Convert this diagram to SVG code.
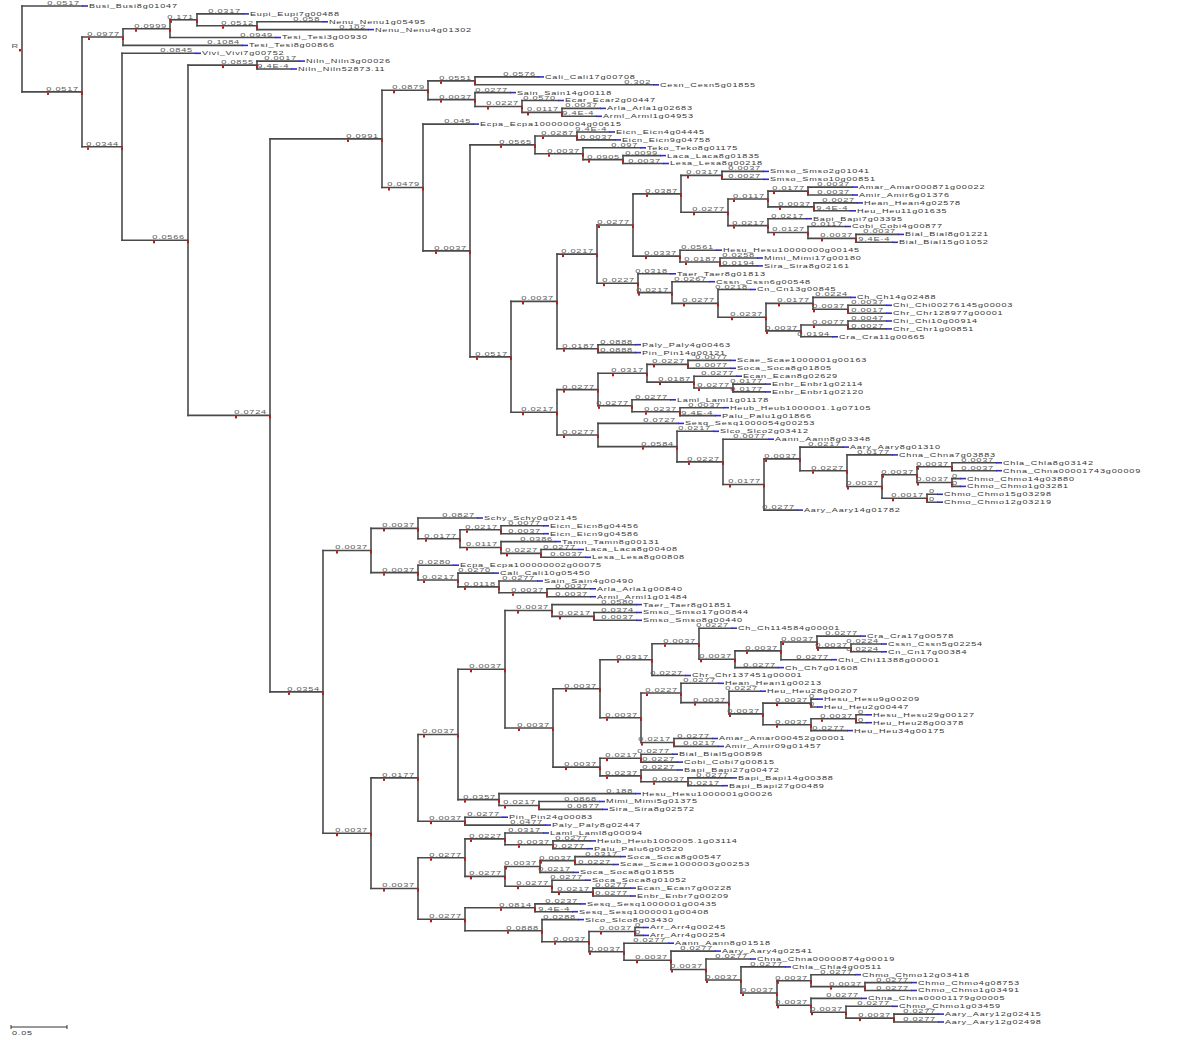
<svg xmlns="http://www.w3.org/2000/svg" width="1200" height="1040" viewBox="0 0 1200 1040">
<defs>
<style>
.e{fill:none;stroke:#4a4a4a;stroke-width:1.6;stroke-linecap:square}
.ie path{marker-mid:url(#rm);marker-end:url(#rm)}
.b{stroke:#2f2fc8;stroke-width:1.6}
.l{font-family:"Liberation Sans",Arial,sans-serif;font-size:5px;fill:#5c5c5c;text-anchor:end;letter-spacing:.4px;transform-box:fill-box;transform-origin:100% 0;transform:scaleX(1.85)}
.n{font-family:"Liberation Sans",Arial,sans-serif;font-size:5.5px;fill:#363636;letter-spacing:.5px;transform-box:fill-box;transform-origin:0 0;transform:scaleX(1.65)}
</style>
<marker id="rm" markerUnits="userSpaceOnUse" markerWidth="3" markerHeight="4" refX="1" refY="-0.6" overflow="visible"><rect width="2" height="2.4" fill="#cc1111"/></marker>
</defs>
<rect width="1200" height="1040" fill="#ffffff"/>
<g id="connectors">
<path class="e" d="M22 6V91.9M82 37V146.8M123 28.7V45.4M170 19.8V37.5M197 13.9V25.7M257 21.8V29.6M122 53.3V240.3M188 65.1V415.4M257 61.1V69M270 138.9V691.9M382 90.3V187.5M428 80.9V99.6M475 76.9V84.8M475 92.6V106.5M522 100.5V112.4M562 108.4V116.3M423 124.1V250.9M470 144.9V356.9M535 136V153.7M577 132V139.9M583 147.8V159.6M623 155.6V163.5M511 301.4V412.3M557 254.1V348.7M597 225V283.2M633 193.9V256.1M681 175.4V212.3M722 171.4V179.3M728 199V225.6M768 191.1V206.9M808 187.1V195M814 202.9V210.8M768 218.7V232.5M808 226.5V238.4M856 234.4V242.3M680 250.2V262M720 258V265.9M638 273.8V292.6M672 281.7V303.4M718 289.5V317.2M766 303.4V330.9M813 297.4V309.3M801 325V336.8M848 305.3V313.2M848 321V328.9M598 344.7V352.6M557 389.6V435M598 373.3V405.8M647 364.4V382.1M688 360.4V368.3M694 376.2V388M733 384.1V391.9M632 399.8V411.7M680 407.7V415.6M598 423.4V446.6M677 431.3V461.9M723 439.2V484.5M764 458.9V510.1M800 447.1V470.7M847 454.9V486.5M882 474.7V498.3M917 466.8V482.5M952 462.8V470.7M952 478.6V486.4M927 494.3V502.2M323 550.5V833.2M371 528.4V572.6M418 518V538.7M460 529.8V547.5M501 525.8V533.7M501 541.6V553.4M541 549.5V557.3M418 565.2V580M458 573.1V586.9M499 581V592.8M547 588.8V596.7M371 777.9V888.5M418 734.5V821.2M458 669.3V799.6M505 610.5V728M552 604.6V616.4M594 612.5V620.3M553 688.8V767.1M600 659.7V717.8M652 643.8V675.5M699 628.2V659.3M735 650.9V667.6M781 642V659.7M817 636.1V647.9M851 644V651.8M641 693V742.5M681 683.3V702.6M729 691.2V713.9M763 703.1V724.7M811 699.1V707M811 718.8V730.6M856 714.8V722.7M674 738.5V746.4M600 758.2V775.9M641 754.2V762.1M641 770V781.8M688 777.9V785.7M499 793.6V805.5M539 801.5V809.4M465 817.2V825.1M418 857.7V919.3M465 838.9V876.4M505 833V844.8M553 840.9V848.7M505 866.5V886.2M540 860.6V872.4M575 856.6V864.5M552 880.2V892.1M593 888.1V896M465 907.8V930.7M535 903.9V911.7M542 919.6V941.7M589 931.5V951.8M635 927.5V935.4M624 943.2V960.3M671 951.1V969.5M706 959V980M741 966.9V993M777 980.7V1005.3M811 974.7V986.6M865 982.6V990.5M811 998.4V1012.2M846 1006.3V1018.1M894 1014.1V1022"/>
<path class="e" d="M22 6H82M197 13.9H243M257 21.8H322M257 29.6H368M170 37.5H275M123 45.4H242M122 53.3H195M257 61.1H299M257 69H291M475 76.9H538M475 84.8H653M475 92.6H510M522 100.5H558M562 108.4H600M562 116.3H596M423 124.1H473M577 132H609M577 139.9H615M583 147.8H640M623 155.6H660M623 163.5H663M722 171.4H763M722 179.3H763M808 187.1H852M808 195H852M814 202.9H857M814 210.8H850M768 218.7H806M808 226.5H845M856 234.4H898M856 242.3H892M680 250.2H716M720 258H757M720 265.9H757M638 273.8H670M672 281.7H709M718 289.5H750M813 297.4H850M848 305.3H886M848 313.2H886M848 321H886M848 328.9H886M801 336.8H832M598 344.7H635M598 352.6H635M688 360.4H730M688 368.3H730M694 376.2H736M733 384.1H765M733 391.9H765M632 399.8H670M680 407.7H723M680 415.6H715M598 423.4H678M677 431.3H713M723 439.2H768M800 447.1H843M847 454.9H892M952 462.8H996M952 470.7H996M952 478.6H960M952 486.4H960M927 494.3H937M927 502.2H937M764 510.1H797M418 518H477M501 525.8H543M501 533.7H543M501 541.6H555M541 549.5H578M541 557.3H585M418 565.2H453M458 573.1H493M499 581H537M547 588.8H590M547 596.7H590M552 604.6H636M594 612.5H636M594 620.3H636M699 628.2H731M817 636.1H860M851 644H881M851 651.8H881M781 659.7H831M735 667.6H778M652 675.5H685M681 683.3H718M729 691.2H760M811 699.1H817M811 707H817M856 714.8H866M856 722.7H866M811 730.6H847M674 738.5H712M674 746.4H718M641 754.2H672M641 762.1H677M641 770H677M688 777.9H731M688 785.7H722M499 793.6H635M539 801.5H599M539 809.4H602M465 817.2H502M465 825.1H545M505 833H543M553 840.9H590M553 848.7H587M575 856.6H620M575 864.5H613M540 872.4H573M552 880.2H585M593 888.1H630M593 896H630M535 903.9H580M535 911.7H572M542 919.6H578M635 927.5H643M635 935.4H643M624 943.2H668M671 951.1H715M706 959H750M741 966.9H785M811 974.7H855M865 982.6H911M865 990.5H911M811 998.4H861M846 1006.3H892M894 1014.1H938M894 1022H938"/>
<g class="ie">
<path class="e" d="M22 91.9H48H82"/><path class="e" d="M82 37H89H123"/><path class="e" d="M123 28.7H136H170"/><path class="e" d="M170 19.8H171H197"/><path class="e" d="M197 25.7H223H257"/><path class="e" d="M82 146.8H88H122"/><path class="e" d="M122 240.3H154H188"/><path class="e" d="M188 65.1H223H257"/><path class="e" d="M188 415.4H236H270"/><path class="e" d="M270 138.9H348H382"/><path class="e" d="M382 90.3H394H428"/><path class="e" d="M428 80.9H441H475"/><path class="e" d="M428 99.6H441H475"/><path class="e" d="M475 106.5H488H522"/><path class="e" d="M522 112.4H528H562"/><path class="e" d="M382 187.5H389H423"/><path class="e" d="M423 250.9H436H470"/><path class="e" d="M470 144.9H501H535"/><path class="e" d="M535 136H543H577"/><path class="e" d="M535 153.7H549H583"/><path class="e" d="M583 159.6H589H623"/><path class="e" d="M470 356.9H477H511"/><path class="e" d="M511 301.4H523H557"/><path class="e" d="M557 254.1H563H597"/><path class="e" d="M597 225H599H633"/><path class="e" d="M633 193.9H647H681"/><path class="e" d="M681 175.4H688H722"/><path class="e" d="M681 212.3H694H728"/><path class="e" d="M728 199H734H768"/><path class="e" d="M768 191.1H774H808"/><path class="e" d="M768 206.9H780H814"/><path class="e" d="M728 225.6H734H768"/><path class="e" d="M768 232.5H774H808"/><path class="e" d="M808 238.4H822H856"/><path class="e" d="M633 256.1H646H680"/><path class="e" d="M680 262H686H720"/><path class="e" d="M597 283.2H604H638"/><path class="e" d="M638 292.6H639H672"/><path class="e" d="M672 303.4H684H718"/><path class="e" d="M718 317.2H732H766"/><path class="e" d="M766 303.4H779H813"/><path class="e" d="M766 330.9H767H801"/><path class="e" d="M813 309.3H814H848"/><path class="e" d="M801 325H814H848"/><path class="e" d="M557 348.7H564H598"/><path class="e" d="M511 412.3H523H557"/><path class="e" d="M557 389.6H564H598"/><path class="e" d="M598 373.3H613H647"/><path class="e" d="M647 364.4H654H688"/><path class="e" d="M647 382.1H660H694"/><path class="e" d="M694 388H699H733"/><path class="e" d="M598 405.8H599H632"/><path class="e" d="M632 411.7H646H680"/><path class="e" d="M557 435H564H598"/><path class="e" d="M598 446.6H643H677"/><path class="e" d="M677 461.9H689H723"/><path class="e" d="M723 484.5H730H764"/><path class="e" d="M764 458.9H766H800"/><path class="e" d="M800 470.7H813H847"/><path class="e" d="M847 486.5H848H882"/><path class="e" d="M882 474.7H883H917"/><path class="e" d="M917 466.8H918H952"/><path class="e" d="M917 482.5H918H952"/><path class="e" d="M882 498.3H893H927"/><path class="e" d="M270 691.9H289H323"/><path class="e" d="M323 550.5H337H371"/><path class="e" d="M371 528.4H384H418"/><path class="e" d="M418 538.7H426H460"/><path class="e" d="M460 529.8H467H501"/><path class="e" d="M460 547.5H467H501"/><path class="e" d="M501 553.4H507H541"/><path class="e" d="M371 572.6H384H418"/><path class="e" d="M418 580H424H458"/><path class="e" d="M458 586.9H465H499"/><path class="e" d="M499 592.8H513H547"/><path class="e" d="M323 833.2H337H371"/><path class="e" d="M371 777.9H384H418"/><path class="e" d="M418 734.5H424H458"/><path class="e" d="M458 669.3H471H505"/><path class="e" d="M505 610.5H518H552"/><path class="e" d="M552 616.4H560H594"/><path class="e" d="M505 728H519H553"/><path class="e" d="M553 688.8H566H600"/><path class="e" d="M600 659.7H618H652"/><path class="e" d="M652 643.8H665H699"/><path class="e" d="M699 659.3H701H735"/><path class="e" d="M735 650.9H747H781"/><path class="e" d="M781 642H783H817"/><path class="e" d="M817 647.9H818H851"/><path class="e" d="M600 717.8H607H641"/><path class="e" d="M641 693H647H681"/><path class="e" d="M681 702.6H695H729"/><path class="e" d="M729 713.9H730H763"/><path class="e" d="M763 703.1H777H811"/><path class="e" d="M763 724.7H777H811"/><path class="e" d="M811 718.8H822H856"/><path class="e" d="M641 742.5H642H674"/><path class="e" d="M553 767.1H566H600"/><path class="e" d="M600 758.2H607H641"/><path class="e" d="M600 775.9H607H641"/><path class="e" d="M641 781.8H654H688"/><path class="e" d="M458 799.6H465H499"/><path class="e" d="M499 805.5H505H539"/><path class="e" d="M418 821.2H431H465"/><path class="e" d="M371 888.5H384H418"/><path class="e" d="M418 857.7H431H465"/><path class="e" d="M465 838.9H471H505"/><path class="e" d="M505 844.8H519H553"/><path class="e" d="M465 876.4H471H505"/><path class="e" d="M505 866.5H506H540"/><path class="e" d="M540 860.6H541H575"/><path class="e" d="M505 886.2H518H552"/><path class="e" d="M552 892.1H559H593"/><path class="e" d="M418 919.3H431H465"/><path class="e" d="M465 907.8H501H535"/><path class="e" d="M465 930.7H508H542"/><path class="e" d="M542 941.7H555H589"/><path class="e" d="M589 931.5H601H635"/><path class="e" d="M589 951.8H590H624"/><path class="e" d="M624 960.3H637H671"/><path class="e" d="M671 969.5H672H706"/><path class="e" d="M706 980H707H741"/><path class="e" d="M741 993H743H777"/><path class="e" d="M777 980.7H778H811"/><path class="e" d="M811 986.6H831H865"/><path class="e" d="M777 1005.3H778H811"/><path class="e" d="M811 1012.2H812H846"/><path class="e" d="M846 1018.1H860H894"/>
</g>
</g>
<g id="internal-nodes">
<g id="root"><text class="l" x="19" y="48">R</text><rect x="19" y="49" width="2" height="2.4" fill="#cc1111"/></g>
<g id="N1"><text class="l" x="79" y="90.9">0.0517</text></g>
<g id="N2"><text class="l" x="120" y="36">0.0977</text></g>
<g id="N2a"><text class="l" x="167" y="27.7">0.0999</text></g>
<g id="N2b"><text class="l" x="194" y="18.8">0.171</text></g>
<g id="N2c"><text class="l" x="254" y="24.7">0.0512</text></g>
<g id="N3"><text class="l" x="119" y="145.8">0.0344</text></g>
<g id="N4"><text class="l" x="185" y="239.3">0.0566</text></g>
<g id="N5"><text class="l" x="254" y="64.1">0.0855</text></g>
<g id="N6"><text class="l" x="267" y="414.4">0.0724</text></g>
<g id="N7"><text class="l" x="379" y="137.9">0.0991</text></g>
<g id="N8"><text class="l" x="425" y="89.3">0.0879</text></g>
<g id="N9"><text class="l" x="472" y="79.9">0.0551</text></g>
<g id="N10"><text class="l" x="472" y="98.6">0.0037</text></g>
<g id="N11"><text class="l" x="519" y="105.5">0.0227</text></g>
<g id="N12"><text class="l" x="559" y="111.4">0.0117</text></g>
<g id="N13"><text class="l" x="420" y="186.5">0.0479</text></g>
<g id="N14"><text class="l" x="467" y="249.9">0.0037</text></g>
<g id="N15"><text class="l" x="532" y="143.9">0.0565</text></g>
<g id="N16"><text class="l" x="574" y="135">0.0287</text></g>
<g id="N17"><text class="l" x="580" y="152.7">0.0037</text></g>
<g id="N18"><text class="l" x="620" y="158.6">0.0905</text></g>
<g id="N19"><text class="l" x="508" y="355.9">0.0517</text></g>
<g id="nB"><text class="l" x="554" y="300.4">0.0037</text></g>
<g id="nC"><text class="l" x="594" y="253.1">0.0217</text></g>
<g id="nD"><text class="l" x="630" y="224">0.0277</text></g>
<g id="nE"><text class="l" x="678" y="192.9">0.0387</text></g>
<g id="nF"><text class="l" x="719" y="174.4">0.0317</text></g>
<g id="nG"><text class="l" x="725" y="211.3">0.0277</text></g>
<g id="nH"><text class="l" x="765" y="198">0.0117</text></g>
<g id="nI"><text class="l" x="805" y="190.1">0.0177</text></g>
<g id="nK"><text class="l" x="811" y="205.9">0.0037</text></g>
<g id="nJ"><text class="l" x="765" y="224.6">0.0217</text></g>
<g id="nM"><text class="l" x="805" y="231.5">0.0127</text></g>
<g id="nN"><text class="l" x="853" y="237.4">0.0037</text></g>
<g id="nHMS"><text class="l" x="677" y="255.1">0.0337</text></g>
<g id="nMS"><text class="l" x="717" y="261">0.0187</text></g>
<g id="nT"><text class="l" x="635" y="282.2">0.0227</text></g>
<g id="nT2"><text class="l" x="669" y="291.6">0.0217</text></g>
<g id="nT3"><text class="l" x="715" y="302.4">0.0277</text></g>
<g id="nT4"><text class="l" x="763" y="316.2">0.0237</text></g>
<g id="nT5"><text class="l" x="810" y="302.4">0.0177</text></g>
<g id="nT6"><text class="l" x="798" y="329.9">0.0037</text></g>
<g id="nT7"><text class="l" x="845" y="308.3">0.0037</text></g>
<g id="nT8"><text class="l" x="845" y="324">0.0077</text></g>
<g id="nPP"><text class="l" x="595" y="347.7">0.0187</text></g>
<g id="nQ"><text class="l" x="554" y="411.3">0.0217</text></g>
<g id="nQ1"><text class="l" x="595" y="388.6">0.0277</text></g>
<g id="nQ3"><text class="l" x="644" y="372.3">0.0317</text></g>
<g id="nQa"><text class="l" x="685" y="363.4">0.0227</text></g>
<g id="nQb"><text class="l" x="691" y="381.1">0.0187</text></g>
<g id="nQc"><text class="l" x="730" y="387">0.0277</text></g>
<g id="nQ4"><text class="l" x="629" y="404.8">0.0277</text></g>
<g id="nQd"><text class="l" x="677" y="410.7">0.0237</text></g>
<g id="nQ2"><text class="l" x="595" y="434">0.0277</text></g>
<g id="nR1"><text class="l" x="674" y="445.6">0.0584</text></g>
<g id="nR2"><text class="l" x="720" y="460.9">0.0227</text></g>
<g id="nR3"><text class="l" x="761" y="483.5">0.0177</text></g>
<g id="nR4"><text class="l" x="797" y="457.9">0.0037</text></g>
<g id="nR5"><text class="l" x="844" y="469.7">0.0227</text></g>
<g id="nR6"><text class="l" x="879" y="485.5">0.0037</text></g>
<g id="nR7"><text class="l" x="914" y="473.7">0.0037</text></g>
<g id="nR7a"><text class="l" x="949" y="465.8">0.0037</text></g>
<g id="nR7b"><text class="l" x="949" y="481.5">0.0037</text></g>
<g id="nR8"><text class="l" x="924" y="497.3">0.0017</text></g>
<g id="nNB"><text class="l" x="320" y="690.9">0.0354</text></g>
<g id="nP1"><text class="l" x="368" y="549.5">0.0037</text></g>
<g id="nP1a"><text class="l" x="415" y="527.4">0.0037</text></g>
<g id="nP1c"><text class="l" x="457" y="537.7">0.0177</text></g>
<g id="nP1f"><text class="l" x="498" y="528.8">0.0217</text></g>
<g id="nP1d"><text class="l" x="498" y="546.5">0.0117</text></g>
<g id="nP1e"><text class="l" x="538" y="552.4">0.0227</text></g>
<g id="nP1b"><text class="l" x="415" y="571.6">0.0037</text></g>
<g id="nP1g"><text class="l" x="455" y="579">0.0217</text></g>
<g id="nP1h"><text class="l" x="496" y="585.9">0.0118</text></g>
<g id="nP1i"><text class="l" x="544" y="591.8">0.0037</text></g>
<g id="nP2"><text class="l" x="368" y="832.2">0.0037</text></g>
<g id="nP2a"><text class="l" x="415" y="776.9">0.0177</text></g>
<g id="nP3"><text class="l" x="455" y="733.5">0.0037</text></g>
<g id="nS1"><text class="l" x="502" y="668.3">0.0037</text></g>
<g id="nX1"><text class="l" x="549" y="609.5">0.0037</text></g>
<g id="nX2"><text class="l" x="591" y="615.4">0.0217</text></g>
<g id="nS2"><text class="l" x="550" y="727">0.0037</text></g>
<g id="nW"><text class="l" x="597" y="687.8">0.0037</text></g>
<g id="nZ"><text class="l" x="649" y="658.7">0.0317</text></g>
<g id="nY1"><text class="l" x="696" y="642.8">0.0037</text></g>
<g id="nY2"><text class="l" x="732" y="658.3">0.0037</text></g>
<g id="nY3"><text class="l" x="778" y="649.9">0.0037</text></g>
<g id="nY4"><text class="l" x="814" y="641">0.0037</text></g>
<g id="nY5"><text class="l" x="848" y="646.9">0.0037</text></g>
<g id="nV"><text class="l" x="638" y="716.8">0.0037</text></g>
<g id="nV1"><text class="l" x="678" y="692">0.0227</text></g>
<g id="nV3"><text class="l" x="726" y="701.6">0.0037</text></g>
<g id="nV4"><text class="l" x="760" y="712.9">0.0037</text></g>
<g id="nV5"><text class="l" x="808" y="702.1">0.0037</text></g>
<g id="nV6"><text class="l" x="808" y="723.7">0.0037</text></g>
<g id="nV7"><text class="l" x="853" y="717.8">0.0037</text></g>
<g id="nV2"><text class="l" x="671" y="741.5">0.0217</text></g>
<g id="nU"><text class="l" x="597" y="766.1">0.0037</text></g>
<g id="nU1"><text class="l" x="638" y="757.2">0.0217</text></g>
<g id="nU2"><text class="l" x="638" y="774.9">0.0237</text></g>
<g id="nU2b"><text class="l" x="685" y="780.8">0.0037</text></g>
<g id="nS3"><text class="l" x="496" y="798.6">0.0357</text></g>
<g id="nS4"><text class="l" x="536" y="804.5">0.0217</text></g>
<g id="nP4"><text class="l" x="462" y="820.2">0.0037</text></g>
<g id="nP2b"><text class="l" x="415" y="887.5">0.0037</text></g>
<g id="nP5"><text class="l" x="462" y="856.7">0.0277</text></g>
<g id="nP6"><text class="l" x="502" y="837.9">0.0227</text></g>
<g id="nP7"><text class="l" x="550" y="843.8">0.0037</text></g>
<g id="nP8"><text class="l" x="502" y="875.4">0.0277</text></g>
<g id="nP9"><text class="l" x="537" y="865.5">0.0037</text></g>
<g id="nP10"><text class="l" x="572" y="859.6">0.0037</text></g>
<g id="nP11"><text class="l" x="549" y="885.2">0.0277</text></g>
<g id="nP12"><text class="l" x="590" y="891.1">0.0217</text></g>
<g id="nP13"><text class="l" x="462" y="918.3">0.0277</text></g>
<g id="nP14"><text class="l" x="532" y="906.8">0.0814</text></g>
<g id="nP15"><text class="l" x="539" y="929.7">0.0888</text></g>
<g id="nP16"><text class="l" x="586" y="940.7">0.0037</text></g>
<g id="nPa"><text class="l" x="632" y="930.5">0.0037</text></g>
<g id="nP17"><text class="l" x="621" y="950.8">0.0037</text></g>
<g id="nP18"><text class="l" x="668" y="959.3">0.0037</text></g>
<g id="nP19"><text class="l" x="703" y="968.5">0.0037</text></g>
<g id="nP20"><text class="l" x="738" y="979">0.0037</text></g>
<g id="nP21"><text class="l" x="774" y="992">0.0037</text></g>
<g id="nP22"><text class="l" x="808" y="979.7">0.0037</text></g>
<g id="nP23"><text class="l" x="862" y="985.6">0.0037</text></g>
<g id="nP24"><text class="l" x="808" y="1004.3">0.0037</text></g>
<g id="nP25"><text class="l" x="843" y="1011.2">0.0037</text></g>
<g id="nP26"><text class="l" x="891" y="1017.1">0.0037</text></g>
</g>
<g id="leaves">
<g id="L1" transform="translate(82 6)"><path class="b" d="M0 0h6"/><text class="l" x="-2" y="-1">0.0517</text><text class="n" x="7" y="1.9">Busi_Busi8g01047</text></g>
<g id="L2" transform="translate(243 13.9)"><path class="b" d="M0 0h6"/><text class="l" x="-2" y="-1">0.0317</text><text class="n" x="7" y="1.9">Eupi_Eupi7g00488</text></g>
<g id="L3" transform="translate(322 21.8)"><path class="b" d="M0 0h6"/><text class="l" x="-2" y="-1">0.058</text><text class="n" x="7" y="1.9">Nenu_Nenu1g05495</text></g>
<g id="L4" transform="translate(368 29.6)"><path class="b" d="M0 0h6"/><text class="l" x="-2" y="-1">0.102</text><text class="n" x="7" y="1.9">Nenu_Nenu4g01302</text></g>
<g id="L5" transform="translate(275 37.5)"><path class="b" d="M0 0h6"/><text class="l" x="-2" y="-1">0.0949</text><text class="n" x="7" y="1.9">Tesi_Tesi3g00930</text></g>
<g id="L6" transform="translate(242 45.4)"><path class="b" d="M0 0h6"/><text class="l" x="-2" y="-1">0.1084</text><text class="n" x="7" y="1.9">Tesi_Tesi8g00866</text></g>
<g id="L7" transform="translate(195 53.3)"><path class="b" d="M0 0h6"/><text class="l" x="-2" y="-1">0.0845</text><text class="n" x="7" y="1.9">Vivi_Vivi7g00752</text></g>
<g id="L8" transform="translate(299 61.1)"><path class="b" d="M0 0h6"/><text class="l" x="-2" y="-1">0.0017</text><text class="n" x="7" y="1.9">Niln_Niln3g00026</text></g>
<g id="L9" transform="translate(291 69)"><path class="b" d="M0 0h6"/><text class="l" x="-2" y="-1">9.4E-4</text><text class="n" x="7" y="1.9">Niln_Niln52873.11</text></g>
<g id="L10" transform="translate(538 76.9)"><path class="b" d="M0 0h6"/><text class="l" x="-2" y="-1">0.0576</text><text class="n" x="7" y="1.9">Cali_Cali17g00708</text></g>
<g id="L11" transform="translate(653 84.8)"><path class="b" d="M0 0h6"/><text class="l" x="-2" y="-1">0.302</text><text class="n" x="7" y="1.9">Cesn_Cesn5g01855</text></g>
<g id="L12" transform="translate(510 92.6)"><path class="b" d="M0 0h6"/><text class="l" x="-2" y="-1">0.0277</text><text class="n" x="7" y="1.9">Sain_Sain14g00118</text></g>
<g id="L13" transform="translate(558 100.5)"><path class="b" d="M0 0h6"/><text class="l" x="-2" y="-1">0.0570</text><text class="n" x="7" y="1.9">Ecar_Ecar2g00447</text></g>
<g id="L14" transform="translate(600 108.4)"><path class="b" d="M0 0h6"/><text class="l" x="-2" y="-1">0.0037</text><text class="n" x="7" y="1.9">Arla_Arla1g02683</text></g>
<g id="L15" transform="translate(596 116.3)"><path class="b" d="M0 0h6"/><text class="l" x="-2" y="-1">9.4E-4</text><text class="n" x="7" y="1.9">Arml_Arml1g04953</text></g>
<g id="L16" transform="translate(473 124.1)"><path class="b" d="M0 0h6"/><text class="l" x="-2" y="-1">0.045</text><text class="n" x="7" y="1.9">Ecpa_Ecpa100000004g00615</text></g>
<g id="L17" transform="translate(609 132)"><path class="b" d="M0 0h6"/><text class="l" x="-2" y="-1">9.4E-4</text><text class="n" x="7" y="1.9">Eicn_Eicn4g04445</text></g>
<g id="L18" transform="translate(615 139.9)"><path class="b" d="M0 0h6"/><text class="l" x="-2" y="-1">0.0037</text><text class="n" x="7" y="1.9">Eicn_Eicn9g04758</text></g>
<g id="L19" transform="translate(640 147.8)"><path class="b" d="M0 0h6"/><text class="l" x="-2" y="-1">0.097</text><text class="n" x="7" y="1.9">Teko_Teko8g01175</text></g>
<g id="L20" transform="translate(660 155.6)"><path class="b" d="M0 0h6"/><text class="l" x="-2" y="-1">0.0099</text><text class="n" x="7" y="1.9">Laca_Laca8g01835</text></g>
<g id="L21" transform="translate(663 163.5)"><path class="b" d="M0 0h6"/><text class="l" x="-2" y="-1">0.0037</text><text class="n" x="7" y="1.9">Lesa_Lesa8g00218</text></g>
<g id="L22" transform="translate(763 171.4)"><path class="b" d="M0 0h6"/><text class="l" x="-2" y="-1">0.0037</text><text class="n" x="7" y="1.9">Smso_Smso2g01041</text></g>
<g id="L23" transform="translate(763 179.3)"><path class="b" d="M0 0h6"/><text class="l" x="-2" y="-1">0.0027</text><text class="n" x="7" y="1.9">Smso_Smso10g00851</text></g>
<g id="L24" transform="translate(852 187.1)"><path class="b" d="M0 0h6"/><text class="l" x="-2" y="-1">0.0037</text><text class="n" x="7" y="1.9">Amar_Amar000871g00022</text></g>
<g id="L25" transform="translate(852 195)"><path class="b" d="M0 0h6"/><text class="l" x="-2" y="-1">0.0037</text><text class="n" x="7" y="1.9">Amir_Amir6g01376</text></g>
<g id="L26" transform="translate(857 202.9)"><path class="b" d="M0 0h6"/><text class="l" x="-2" y="-1">0.0027</text><text class="n" x="7" y="1.9">Hean_Hean4g02578</text></g>
<g id="L27" transform="translate(850 210.8)"><path class="b" d="M0 0h6"/><text class="l" x="-2" y="-1">9.4E-4</text><text class="n" x="7" y="1.9">Heu_Heu11g01635</text></g>
<g id="L28" transform="translate(806 218.7)"><path class="b" d="M0 0h6"/><text class="l" x="-2" y="-1">0.0217</text><text class="n" x="7" y="1.9">Bapi_Bapi7g03395</text></g>
<g id="L29" transform="translate(845 226.5)"><path class="b" d="M0 0h6"/><text class="l" x="-2" y="-1">0.0117</text><text class="n" x="7" y="1.9">Cobi_Cobi4g00877</text></g>
<g id="L30" transform="translate(898 234.4)"><path class="b" d="M0 0h6"/><text class="l" x="-2" y="-1">0.0037</text><text class="n" x="7" y="1.9">Bial_Bial8g01221</text></g>
<g id="L31" transform="translate(892 242.3)"><path class="b" d="M0 0h6"/><text class="l" x="-2" y="-1">9.4E-4</text><text class="n" x="7" y="1.9">Bial_Bial15g01052</text></g>
<g id="L32" transform="translate(716 250.2)"><path class="b" d="M0 0h6"/><text class="l" x="-2" y="-1">0.0561</text><text class="n" x="7" y="1.9">Hesu_Hesu10000000g00145</text></g>
<g id="L33" transform="translate(757 258)"><path class="b" d="M0 0h6"/><text class="l" x="-2" y="-1">0.0258</text><text class="n" x="7" y="1.9">Mimi_Mimi17g00180</text></g>
<g id="L34" transform="translate(757 265.9)"><path class="b" d="M0 0h6"/><text class="l" x="-2" y="-1">0.0194</text><text class="n" x="7" y="1.9">Sira_Sira8g02161</text></g>
<g id="L35" transform="translate(670 273.8)"><path class="b" d="M0 0h6"/><text class="l" x="-2" y="-1">0.0318</text><text class="n" x="7" y="1.9">Taer_Taer8g01813</text></g>
<g id="L36" transform="translate(709 281.7)"><path class="b" d="M0 0h6"/><text class="l" x="-2" y="-1">0.0267</text><text class="n" x="7" y="1.9">Cssn_Cssn6g00548</text></g>
<g id="L37" transform="translate(750 289.5)"><path class="b" d="M0 0h6"/><text class="l" x="-2" y="-1">0.0218</text><text class="n" x="7" y="1.9">Cn_Cn13g00845</text></g>
<g id="L38" transform="translate(850 297.4)"><path class="b" d="M0 0h6"/><text class="l" x="-2" y="-1">0.0224</text><text class="n" x="7" y="1.9">Ch_Ch14g02488</text></g>
<g id="L39" transform="translate(886 305.3)"><path class="b" d="M0 0h6"/><text class="l" x="-2" y="-1">0.0037</text><text class="n" x="7" y="1.9">Chi_Chi00276145g00003</text></g>
<g id="L40" transform="translate(886 313.2)"><path class="b" d="M0 0h6"/><text class="l" x="-2" y="-1">0.0017</text><text class="n" x="7" y="1.9">Chr_Chr128977g00001</text></g>
<g id="L41" transform="translate(886 321)"><path class="b" d="M0 0h6"/><text class="l" x="-2" y="-1">0.0047</text><text class="n" x="7" y="1.9">Chi_Chi10g00914</text></g>
<g id="L42" transform="translate(886 328.9)"><path class="b" d="M0 0h6"/><text class="l" x="-2" y="-1">0.0027</text><text class="n" x="7" y="1.9">Chr_Chr1g00851</text></g>
<g id="L43" transform="translate(832 336.8)"><path class="b" d="M0 0h6"/><text class="l" x="-2" y="-1">0.0194</text><text class="n" x="7" y="1.9">Cra_Cra11g00665</text></g>
<g id="L44" transform="translate(635 344.7)"><path class="b" d="M0 0h6"/><text class="l" x="-2" y="-1">0.0888</text><text class="n" x="7" y="1.9">Paly_Paly4g00463</text></g>
<g id="L45" transform="translate(635 352.6)"><path class="b" d="M0 0h6"/><text class="l" x="-2" y="-1">0.0888</text><text class="n" x="7" y="1.9">Pin_Pin14g00121</text></g>
<g id="L46" transform="translate(730 360.4)"><path class="b" d="M0 0h6"/><text class="l" x="-2" y="-1">0.0077</text><text class="n" x="7" y="1.9">Scae_Scae1000001g00163</text></g>
<g id="L47" transform="translate(730 368.3)"><path class="b" d="M0 0h6"/><text class="l" x="-2" y="-1">0.0077</text><text class="n" x="7" y="1.9">Soca_Soca8g01805</text></g>
<g id="L48" transform="translate(736 376.2)"><path class="b" d="M0 0h6"/><text class="l" x="-2" y="-1">0.0277</text><text class="n" x="7" y="1.9">Ecan_Ecan8g02629</text></g>
<g id="L49" transform="translate(765 384.1)"><path class="b" d="M0 0h6"/><text class="l" x="-2" y="-1">0.0177</text><text class="n" x="7" y="1.9">Enbr_Enbr1g02114</text></g>
<g id="L50" transform="translate(765 391.9)"><path class="b" d="M0 0h6"/><text class="l" x="-2" y="-1">0.0177</text><text class="n" x="7" y="1.9">Enbr_Enbr1g02120</text></g>
<g id="L51" transform="translate(670 399.8)"><path class="b" d="M0 0h6"/><text class="l" x="-2" y="-1">0.0277</text><text class="n" x="7" y="1.9">Laml_Laml1g01178</text></g>
<g id="L52" transform="translate(723 407.7)"><path class="b" d="M0 0h6"/><text class="l" x="-2" y="-1">0.0037</text><text class="n" x="7" y="1.9">Heub_Heub1000001.1g07105</text></g>
<g id="L53" transform="translate(715 415.6)"><path class="b" d="M0 0h6"/><text class="l" x="-2" y="-1">9.4E-4</text><text class="n" x="7" y="1.9">Palu_Palu1g01866</text></g>
<g id="L54" transform="translate(678 423.4)"><path class="b" d="M0 0h6"/><text class="l" x="-2" y="-1">0.0727</text><text class="n" x="7" y="1.9">Sesq_Sesq1000054g00253</text></g>
<g id="L55" transform="translate(713 431.3)"><path class="b" d="M0 0h6"/><text class="l" x="-2" y="-1">0.0217</text><text class="n" x="7" y="1.9">Slco_Slco2g03412</text></g>
<g id="L56" transform="translate(768 439.2)"><path class="b" d="M0 0h6"/><text class="l" x="-2" y="-1">0.0077</text><text class="n" x="7" y="1.9">Aann_Aann8g03348</text></g>
<g id="L57" transform="translate(843 447.1)"><path class="b" d="M0 0h6"/><text class="l" x="-2" y="-1">0.0217</text><text class="n" x="7" y="1.9">Aary_Aary8g01310</text></g>
<g id="L58" transform="translate(892 454.9)"><path class="b" d="M0 0h6"/><text class="l" x="-2" y="-1">0.0177</text><text class="n" x="7" y="1.9">Chna_Chna7g03883</text></g>
<g id="L59" transform="translate(996 462.8)"><path class="b" d="M0 0h6"/><text class="l" x="-2" y="-1">0.0037</text><text class="n" x="7" y="1.9">Chla_Chla8g03142</text></g>
<g id="L60" transform="translate(996 470.7)"><path class="b" d="M0 0h6"/><text class="l" x="-2" y="-1">0.0037</text><text class="n" x="7" y="1.9">Chna_Chna00001743g00009</text></g>
<g id="L61" transform="translate(960 478.6)"><path class="b" d="M0 0h6"/><text class="l" x="-2" y="-1">0</text><text class="n" x="7" y="1.9">Chmo_Chmo14g03880</text></g>
<g id="L62" transform="translate(960 486.4)"><path class="b" d="M0 0h6"/><text class="l" x="-2" y="-1">0</text><text class="n" x="7" y="1.9">Chmo_Chmo1g03281</text></g>
<g id="L63" transform="translate(937 494.3)"><path class="b" d="M0 0h6"/><text class="l" x="-2" y="-1">0</text><text class="n" x="7" y="1.9">Chmo_Chmo15g03298</text></g>
<g id="L64" transform="translate(937 502.2)"><path class="b" d="M0 0h6"/><text class="l" x="-2" y="-1">0</text><text class="n" x="7" y="1.9">Chmo_Chmo12g03219</text></g>
<g id="L65" transform="translate(797 510.1)"><path class="b" d="M0 0h6"/><text class="l" x="-2" y="-1">0.0277</text><text class="n" x="7" y="1.9">Aary_Aary14g01782</text></g>
<g id="L66" transform="translate(477 518)"><path class="b" d="M0 0h6"/><text class="l" x="-2" y="-1">0.0827</text><text class="n" x="7" y="1.9">Schy_Schy0g02145</text></g>
<g id="L67" transform="translate(543 525.8)"><path class="b" d="M0 0h6"/><text class="l" x="-2" y="-1">0.0077</text><text class="n" x="7" y="1.9">Eicn_Eicn8g04456</text></g>
<g id="L68" transform="translate(543 533.7)"><path class="b" d="M0 0h6"/><text class="l" x="-2" y="-1">0.0037</text><text class="n" x="7" y="1.9">Eicn_Eicn9g04586</text></g>
<g id="L69" transform="translate(555 541.6)"><path class="b" d="M0 0h6"/><text class="l" x="-2" y="-1">0.0386</text><text class="n" x="7" y="1.9">Tamn_Tamn8g00131</text></g>
<g id="L70" transform="translate(578 549.5)"><path class="b" d="M0 0h6"/><text class="l" x="-2" y="-1">0.0277</text><text class="n" x="7" y="1.9">Laca_Laca8g00408</text></g>
<g id="L71" transform="translate(585 557.3)"><path class="b" d="M0 0h6"/><text class="l" x="-2" y="-1">0.0037</text><text class="n" x="7" y="1.9">Lesa_Lesa8g00808</text></g>
<g id="L72" transform="translate(453 565.2)"><path class="b" d="M0 0h6"/><text class="l" x="-2" y="-1">0.0280</text><text class="n" x="7" y="1.9">Ecpa_Ecpa100000002g00075</text></g>
<g id="L73" transform="translate(493 573.1)"><path class="b" d="M0 0h6"/><text class="l" x="-2" y="-1">0.0270</text><text class="n" x="7" y="1.9">Cali_Cali10g05450</text></g>
<g id="L74" transform="translate(537 581)"><path class="b" d="M0 0h6"/><text class="l" x="-2" y="-1">0.0277</text><text class="n" x="7" y="1.9">Sain_Sain4g00490</text></g>
<g id="L75" transform="translate(590 588.8)"><path class="b" d="M0 0h6"/><text class="l" x="-2" y="-1">0.0037</text><text class="n" x="7" y="1.9">Arla_Arla1g00840</text></g>
<g id="L76" transform="translate(590 596.7)"><path class="b" d="M0 0h6"/><text class="l" x="-2" y="-1">0.0037</text><text class="n" x="7" y="1.9">Arml_Arml1g01484</text></g>
<g id="L77" transform="translate(636 604.6)"><path class="b" d="M0 0h6"/><text class="l" x="-2" y="-1">0.0580</text><text class="n" x="7" y="1.9">Taer_Taer8g01851</text></g>
<g id="L78" transform="translate(636 612.5)"><path class="b" d="M0 0h6"/><text class="l" x="-2" y="-1">0.0374</text><text class="n" x="7" y="1.9">Smso_Smso17g00844</text></g>
<g id="L79" transform="translate(636 620.3)"><path class="b" d="M0 0h6"/><text class="l" x="-2" y="-1">0.0037</text><text class="n" x="7" y="1.9">Smso_Smso8g00440</text></g>
<g id="L80" transform="translate(731 628.2)"><path class="b" d="M0 0h6"/><text class="l" x="-2" y="-1">0.0227</text><text class="n" x="7" y="1.9">Ch_Ch114584g00001</text></g>
<g id="L81" transform="translate(860 636.1)"><path class="b" d="M0 0h6"/><text class="l" x="-2" y="-1">0.0277</text><text class="n" x="7" y="1.9">Cra_Cra17g00578</text></g>
<g id="L82" transform="translate(881 644)"><path class="b" d="M0 0h6"/><text class="l" x="-2" y="-1">0.0224</text><text class="n" x="7" y="1.9">Cssn_Cssn5g02254</text></g>
<g id="L83" transform="translate(881 651.8)"><path class="b" d="M0 0h6"/><text class="l" x="-2" y="-1">0.0224</text><text class="n" x="7" y="1.9">Cn_Cn17g00384</text></g>
<g id="L84" transform="translate(831 659.7)"><path class="b" d="M0 0h6"/><text class="l" x="-2" y="-1">0.0277</text><text class="n" x="7" y="1.9">Chi_Chi11388g00001</text></g>
<g id="L85" transform="translate(778 667.6)"><path class="b" d="M0 0h6"/><text class="l" x="-2" y="-1">0.0277</text><text class="n" x="7" y="1.9">Ch_Ch7g01608</text></g>
<g id="L86" transform="translate(685 675.5)"><path class="b" d="M0 0h6"/><text class="l" x="-2" y="-1">0.0227</text><text class="n" x="7" y="1.9">Chr_Chr137451g00001</text></g>
<g id="L87" transform="translate(718 683.3)"><path class="b" d="M0 0h6"/><text class="l" x="-2" y="-1">0.0277</text><text class="n" x="7" y="1.9">Hean_Hean1g00213</text></g>
<g id="L88" transform="translate(760 691.2)"><path class="b" d="M0 0h6"/><text class="l" x="-2" y="-1">0.0227</text><text class="n" x="7" y="1.9">Heu_Heu28g00207</text></g>
<g id="L89" transform="translate(817 699.1)"><path class="b" d="M0 0h6"/><text class="l" x="-2" y="-1">0</text><text class="n" x="7" y="1.9">Hesu_Hesu9g00209</text></g>
<g id="L90" transform="translate(817 707)"><path class="b" d="M0 0h6"/><text class="l" x="-2" y="-1">0</text><text class="n" x="7" y="1.9">Heu_Heu2g00447</text></g>
<g id="L91" transform="translate(866 714.8)"><path class="b" d="M0 0h6"/><text class="l" x="-2" y="-1">0</text><text class="n" x="7" y="1.9">Hesu_Hesu29g00127</text></g>
<g id="L92" transform="translate(866 722.7)"><path class="b" d="M0 0h6"/><text class="l" x="-2" y="-1">0</text><text class="n" x="7" y="1.9">Heu_Heu28g00378</text></g>
<g id="L93" transform="translate(847 730.6)"><path class="b" d="M0 0h6"/><text class="l" x="-2" y="-1">0.0277</text><text class="n" x="7" y="1.9">Heu_Heu34g00175</text></g>
<g id="L94" transform="translate(712 738.5)"><path class="b" d="M0 0h6"/><text class="l" x="-2" y="-1">0.0277</text><text class="n" x="7" y="1.9">Amar_Amar000452g00001</text></g>
<g id="L95" transform="translate(718 746.4)"><path class="b" d="M0 0h6"/><text class="l" x="-2" y="-1">0.0217</text><text class="n" x="7" y="1.9">Amir_Amir09g01457</text></g>
<g id="L96" transform="translate(672 754.2)"><path class="b" d="M0 0h6"/><text class="l" x="-2" y="-1">0.0277</text><text class="n" x="7" y="1.9">Bial_Bial5g00898</text></g>
<g id="L97" transform="translate(677 762.1)"><path class="b" d="M0 0h6"/><text class="l" x="-2" y="-1">0.0227</text><text class="n" x="7" y="1.9">Cobi_Cobi7g00815</text></g>
<g id="L98" transform="translate(677 770)"><path class="b" d="M0 0h6"/><text class="l" x="-2" y="-1">0.0227</text><text class="n" x="7" y="1.9">Bapi_Bapi27g00472</text></g>
<g id="L99" transform="translate(731 777.9)"><path class="b" d="M0 0h6"/><text class="l" x="-2" y="-1">0.0277</text><text class="n" x="7" y="1.9">Bapi_Bapi14g00388</text></g>
<g id="L100" transform="translate(722 785.7)"><path class="b" d="M0 0h6"/><text class="l" x="-2" y="-1">0.0217</text><text class="n" x="7" y="1.9">Bapi_Bapi27g00489</text></g>
<g id="L101" transform="translate(635 793.6)"><path class="b" d="M0 0h6"/><text class="l" x="-2" y="-1">0.188</text><text class="n" x="7" y="1.9">Hesu_Hesu1000001g00026</text></g>
<g id="L102" transform="translate(599 801.5)"><path class="b" d="M0 0h6"/><text class="l" x="-2" y="-1">0.0868</text><text class="n" x="7" y="1.9">Mimi_Mimi5g01375</text></g>
<g id="L103" transform="translate(602 809.4)"><path class="b" d="M0 0h6"/><text class="l" x="-2" y="-1">0.0877</text><text class="n" x="7" y="1.9">Sira_Sira8g02572</text></g>
<g id="L104" transform="translate(502 817.2)"><path class="b" d="M0 0h6"/><text class="l" x="-2" y="-1">0.0277</text><text class="n" x="7" y="1.9">Pin_Pin24g00083</text></g>
<g id="L105" transform="translate(545 825.1)"><path class="b" d="M0 0h6"/><text class="l" x="-2" y="-1">0.0477</text><text class="n" x="7" y="1.9">Paly_Paly8g02447</text></g>
<g id="L106" transform="translate(543 833)"><path class="b" d="M0 0h6"/><text class="l" x="-2" y="-1">0.0317</text><text class="n" x="7" y="1.9">Laml_Laml8g00094</text></g>
<g id="L107" transform="translate(590 840.9)"><path class="b" d="M0 0h6"/><text class="l" x="-2" y="-1">0.0277</text><text class="n" x="7" y="1.9">Heub_Heub1000005.1g03114</text></g>
<g id="L108" transform="translate(587 848.7)"><path class="b" d="M0 0h6"/><text class="l" x="-2" y="-1">0.0277</text><text class="n" x="7" y="1.9">Palu_Palu6g00520</text></g>
<g id="L109" transform="translate(620 856.6)"><path class="b" d="M0 0h6"/><text class="l" x="-2" y="-1">0.0317</text><text class="n" x="7" y="1.9">Soca_Soca8g00547</text></g>
<g id="L110" transform="translate(613 864.5)"><path class="b" d="M0 0h6"/><text class="l" x="-2" y="-1">0.0227</text><text class="n" x="7" y="1.9">Scae_Scae1000003g00253</text></g>
<g id="L111" transform="translate(573 872.4)"><path class="b" d="M0 0h6"/><text class="l" x="-2" y="-1">0.0217</text><text class="n" x="7" y="1.9">Soca_Soca8g01855</text></g>
<g id="L112" transform="translate(585 880.2)"><path class="b" d="M0 0h6"/><text class="l" x="-2" y="-1">0.0277</text><text class="n" x="7" y="1.9">Soca_Soca8g01052</text></g>
<g id="L113" transform="translate(630 888.1)"><path class="b" d="M0 0h6"/><text class="l" x="-2" y="-1">0.0277</text><text class="n" x="7" y="1.9">Ecan_Ecan7g00228</text></g>
<g id="L114" transform="translate(630 896)"><path class="b" d="M0 0h6"/><text class="l" x="-2" y="-1">0.0277</text><text class="n" x="7" y="1.9">Enbr_Enbr7g00209</text></g>
<g id="L115" transform="translate(580 903.9)"><path class="b" d="M0 0h6"/><text class="l" x="-2" y="-1">0.0237</text><text class="n" x="7" y="1.9">Sesq_Sesq1000001g00435</text></g>
<g id="L116" transform="translate(572 911.7)"><path class="b" d="M0 0h6"/><text class="l" x="-2" y="-1">9.4E-4</text><text class="n" x="7" y="1.9">Sesq_Sesq1000001g00408</text></g>
<g id="L117" transform="translate(578 919.6)"><path class="b" d="M0 0h6"/><text class="l" x="-2" y="-1">0.0288</text><text class="n" x="7" y="1.9">Slco_Slco8g03430</text></g>
<g id="L118" transform="translate(643 927.5)"><path class="b" d="M0 0h6"/><text class="l" x="-2" y="-1">0</text><text class="n" x="7" y="1.9">Arr_Arr4g00245</text></g>
<g id="L119" transform="translate(643 935.4)"><path class="b" d="M0 0h6"/><text class="l" x="-2" y="-1">0</text><text class="n" x="7" y="1.9">Arr_Arr4g00254</text></g>
<g id="L120" transform="translate(668 943.2)"><path class="b" d="M0 0h6"/><text class="l" x="-2" y="-1">0.0277</text><text class="n" x="7" y="1.9">Aann_Aann8g01518</text></g>
<g id="L121" transform="translate(715 951.1)"><path class="b" d="M0 0h6"/><text class="l" x="-2" y="-1">0.0277</text><text class="n" x="7" y="1.9">Aary_Aary4g02541</text></g>
<g id="L122" transform="translate(750 959)"><path class="b" d="M0 0h6"/><text class="l" x="-2" y="-1">0.0277</text><text class="n" x="7" y="1.9">Chna_Chna00000874g00019</text></g>
<g id="L123" transform="translate(785 966.9)"><path class="b" d="M0 0h6"/><text class="l" x="-2" y="-1">0.0277</text><text class="n" x="7" y="1.9">Chla_Chla4g00511</text></g>
<g id="L124" transform="translate(855 974.7)"><path class="b" d="M0 0h6"/><text class="l" x="-2" y="-1">0.0277</text><text class="n" x="7" y="1.9">Chmo_Chmo12g03418</text></g>
<g id="L125" transform="translate(911 982.6)"><path class="b" d="M0 0h6"/><text class="l" x="-2" y="-1">0.0277</text><text class="n" x="7" y="1.9">Chmo_Chmo4g08753</text></g>
<g id="L126" transform="translate(911 990.5)"><path class="b" d="M0 0h6"/><text class="l" x="-2" y="-1">0.0277</text><text class="n" x="7" y="1.9">Chmo_Chmo1g03491</text></g>
<g id="L127" transform="translate(861 998.4)"><path class="b" d="M0 0h6"/><text class="l" x="-2" y="-1">0.0277</text><text class="n" x="7" y="1.9">Chna_Chna00001179g00005</text></g>
<g id="L128" transform="translate(892 1006.3)"><path class="b" d="M0 0h6"/><text class="l" x="-2" y="-1">0.0277</text><text class="n" x="7" y="1.9">Chmo_Chmo1g03459</text></g>
<g id="L129" transform="translate(938 1014.1)"><path class="b" d="M0 0h6"/><text class="l" x="-2" y="-1">0.0277</text><text class="n" x="7" y="1.9">Aary_Aary12g02415</text></g>
<g id="L130" transform="translate(938 1022)"><path class="b" d="M0 0h6"/><text class="l" x="-2" y="-1">0.0277</text><text class="n" x="7" y="1.9">Aary_Aary12g02498</text></g>
</g>
<g id="scalebar"><path d="M11 1027H67M11 1025V1029M67 1025V1029" fill="none" stroke="#333" stroke-width="1"/><text class="n" x="12" y="1035">0.05</text></g>
</svg>
